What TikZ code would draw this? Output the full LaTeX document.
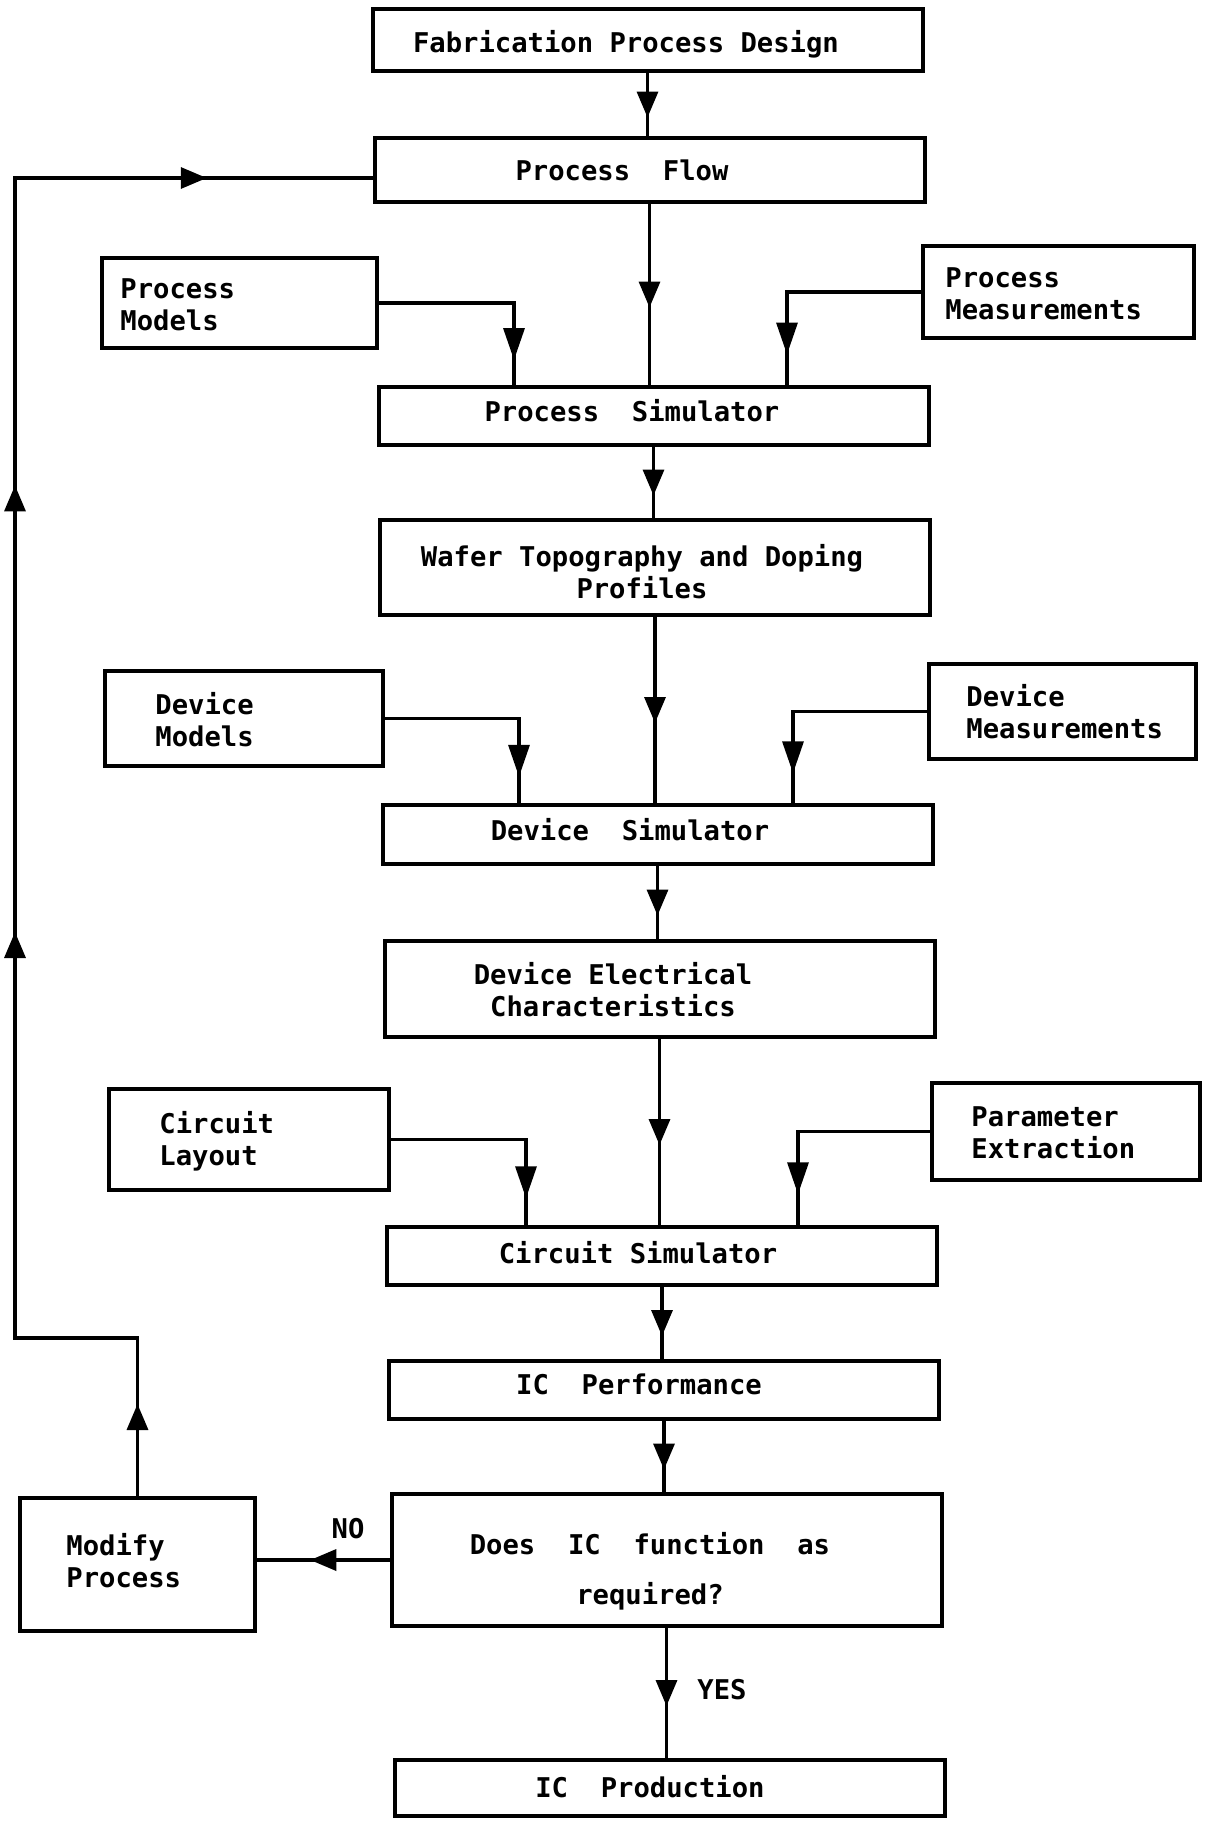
\documentclass[tikz,border=0pt]{standalone}
\usepackage{fontspec}
\setmonofont{DejaVu Sans Mono}
\usetikzlibrary{arrows.meta,decorations.markings}

\tikzset{
  >={Triangle[length=13pt,width=10.5pt]},
  box/.style={draw, line width=2pt, inner sep=0pt, minimum width=275pt},
  sidebox/.style={draw, line width=2pt, inner sep=0pt},
  txt/.style={inner sep=0pt, font=\fontsize{13.6}{16.25}\selectfont\ttfamily\bfseries},
  conn/.style={line width=1.7pt, line cap=rect},
  midarr/.style={conn, decoration={markings, mark=at position 0.5 with {\pgftransformxshift{6.5pt}\arrow{>}}}, postaction={decorate}},
  sidearr/.style={conn, decoration={markings, mark=at position 0.5 with {\pgftransformxshift{8pt}\arrow{Triangle[length=16pt,width=10.5pt]}}}, postaction={decorate}}
}

\begin{document}
\begin{tikzpicture}[x=0.5pt,y=0.5pt,yscale=-1,xscale=1]
        \useasboundingbox (0,0) rectangle (1210,1821);
        %Boxes
        \node[box, minimum height=31pt] (fab) at (647.5,40) {};
        \node[box, minimum height=32pt] (flow) at (649.5,170) {};
        \node[sidebox, minimum width=137.5pt, minimum height=45pt] (pmod) at (239.5,303) {};
        \node[sidebox, minimum width=135.5pt, minimum height=46pt] (pmeas) at (1058.5,292) {};
        \node[box, minimum height=29pt] (psim) at (653.5,416) {};
        \node[box, minimum height=47.5pt] (wafer) at (655,567.5) {};
        \node[sidebox, minimum width=139pt, minimum height=47.5pt] (dmod) at (244,718.5) {};
        \node[sidebox, minimum width=133.5pt, minimum height=47.5pt] (dmeas) at (1062.5,711.5) {};
        \node[box, minimum height=29.5pt] (dsim) at (657.5,834.5) {};
        \node[box, minimum height=48pt] (delec) at (659.5,989) {};
        \node[sidebox, minimum width=140pt, minimum height=50.5pt] (clay) at (249,1139.5) {};
        \node[sidebox, minimum width=134pt, minimum height=48.5pt] (pext) at (1066,1131.5) {};
        \node[box, minimum height=29pt] (csim) at (662,1256) {};
        \node[box, minimum height=29pt] (icperf) at (664,1390) {};
        \node[box, minimum height=66pt] (does) at (666.5,1560) {};
        \node[sidebox, minimum width=117.5pt, minimum height=66.5pt] (modify) at (137.5,1564.5) {};
        \node[box, minimum height=28pt] (icprod) at (669.5,1788) {};
        %Texts
        \node[txt, anchor=base] (fab-t) at (626,52) {Fabrication Process Design};
        \node[txt, anchor=base] (flow-t) at (622,180) {Process~~Flow};
        \node[txt, anchor=base west, align=left] (pmod-t) at (120,330.5) {Process\\Models};
        \node[txt, anchor=base west, align=left] (pmeas-t) at (945,319.5) {Process\\Measurements};
        \node[txt, anchor=base] (psim-t) at (632,421) {Process~~Simulator};
        \node[txt, anchor=base, align=center] (wafer-t) at (642,598.5) {Wafer Topography and Doping\\Profiles};
        \node[txt, anchor=base west, align=left] (dmod-t) at (155,746.5) {Device\\Models};
        \node[txt, anchor=base west, align=left] (dmeas-t) at (966,738.5) {Device\\Measurements};
        \node[txt, anchor=base] (dsim-t) at (630,840) {Device~~Simulator};
        \node[txt, anchor=base, align=center] (delec-t) at (613,1016.5) {Device Electrical\\Characteristics};
        \node[txt, anchor=base west, align=left] (clay-t) at (159,1165.5) {Circuit\\Layout};
        \node[txt, anchor=base west, align=left] (pext-t) at (971,1158.5) {Parameter\\Extraction};
        \node[txt, anchor=base] (csim-t) at (638,1263) {Circuit Simulator};
        \node[txt, anchor=base] (icperf-t) at (639,1394) {IC~~Performance};
        \node[txt, anchor=base, align=center] (does-t) at (650,1604) {Does~~IC~~function~~as\\[8.75pt]required?};
        \node[txt, anchor=base west, align=left] (modify-t) at (66,1587.5) {Modify\\Process};
        \node[txt, anchor=base] (no-t) at (348,1538) {NO};
        \node[txt, anchor=base] (yes-t) at (722,1699) {YES};
        \node[txt, anchor=base] (icprod-t) at (650,1797) {IC~~Production};
        %Main flow
        \draw[midarr] (fab.south) -- (fab.south |- flow.north);
        \draw[midarr] (flow.south) -- (flow.south |- psim.north);
        \draw[midarr] (psim.south) -- (psim.south |- wafer.north);
        \draw[midarr] (wafer.south) -- (wafer.south |- dsim.north);
        \draw[midarr] (dsim.south) -- (dsim.south |- delec.north);
        \draw[midarr] (delec.south) -- (delec.south |- csim.north);
        \draw[midarr] (csim.south) -- (csim.south |- icperf.north);
        \draw[midarr] (icperf.south) -- (icperf.south |- does.north);
        \draw[midarr] (does.south) -- (does.south |- icprod.north);
        \draw[midarr] (does.west) -- (does.west -| modify.east);
        %Side inputs
        \coordinate (pmod-b) at (514,303);
        \coordinate (pmeas-b) at (787,292);
        \coordinate (dmod-b) at (519,718.5);
        \coordinate (dmeas-b) at (793,711.5);
        \coordinate (clay-b) at (526,1139.5);
        \coordinate (pext-b) at (798,1131.5);
        \draw[conn] (pmod.east) -- (pmod-b);
        \draw[sidearr] (pmod-b) -- (pmod-b |- psim.north);
        \draw[conn] (pmeas.west) -- (pmeas-b);
        \draw[sidearr] (pmeas-b) -- (pmeas-b |- psim.north);
        \draw[conn] (dmod.east) -- (dmod-b);
        \draw[sidearr] (dmod-b) -- (dmod-b |- dsim.north);
        \draw[conn] (dmeas.west) -- (dmeas-b);
        \draw[sidearr] (dmeas-b) -- (dmeas-b |- dsim.north);
        \draw[conn] (clay.east) -- (clay-b);
        \draw[sidearr] (clay-b) -- (clay-b |- csim.north);
        \draw[conn] (pext.west) -- (pext-b);
        \draw[sidearr] (pext-b) -- (pext-b |- csim.north);
        %Feedback loop
        \coordinate (fb-a) at (137.5,1338);
        \coordinate (fb-b) at (15,1338);
        \coordinate (fb-c) at (15,178);
        \draw[midarr] (modify.north) -- (fb-a);
        \draw[conn] (fb-a) -- (fb-b);
        \draw[conn, decoration={markings, mark=at position 0.35 with {\arrow{>}}, mark=at position 0.735 with {\arrow{>}}}, postaction={decorate}] (fb-b) -- (fb-c);
        \draw[midarr] (fb-c) -- (fb-c -| flow.west);
    \end{tikzpicture}
\end{document}
